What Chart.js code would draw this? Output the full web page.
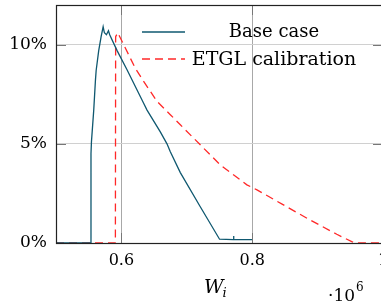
<!DOCTYPE html>
<html>
<head>
    <meta charset="UTF-8">
    <title>Base case vs ETGL calibration</title>
    <style>
        body { margin: 0; overflow: hidden; background: #fff; }
    </style>
</head>
<body>
<script src="https://cdn.jsdelivr.net/npm/chart.js@4.4.0/dist/chart.umd.min.js"></script>
<canvas id="myChart" width="400" height="307"></canvas>

<script type="text/javascript">
    // W_i values (x 10^6) and share in %
    var baseX = [0.5, 0.5527, 0.5535, 0.5542, 0.5577, 0.5603, 0.5614, 0.5653, 0.5690, 0.5721, 0.5740,
                 0.5771, 0.5802, 0.5821, 0.5934, 0.6084, 0.6340, 0.6392, 0.6595, 0.6697, 0.6748,
                 0.6901, 0.7206, 0.7501, 0.7710, 0.7715, 0.7720, 0.8];
    var baseY = [0, 0, 4.5, 5.1, 6.7, 8.2, 8.7, 9.7, 10.4, 10.9, 10.6,
                 10.5, 10.7, 10.5, 9.7, 8.75, 7.05, 6.7, 5.6, 5.0, 4.6,
                 3.55, 1.83, 0.19, 0.17, 0.35, 0.17, 0.17];

    var etglX = [0.5, 0.5908, 0.5912, 0.5944, 0.6035, 0.6214, 0.6340, 0.6545, 0.6748, 0.6901,
                 0.7206, 0.7511, 0.7919, 0.8073, 0.8478, 0.8885, 0.9293, 0.9522, 0.957, 1.0];
    var etglY = [0, 0, 10.4, 10.6, 10.0, 8.8, 8.15, 7.14, 6.47, 5.96,
                 4.95, 3.94, 2.93, 2.68, 1.92, 1.16, 0.44, 0.07, 0, 0];

    var xTicks = [0.6, 0.8, 1.0];
    var yTicks = [0, 5, 10];

    var seriesNames = ["Base case", "ETGL calibration"];
    var tealColor = "#0f5870";
    var redColor = "rgb(255,40,40)";
    var serif = "'DejaVu Serif', serif";

    function toPoints(xs, ys) {
        return xs.map(function(x, i) { return { x: x, y: ys[i] }; });
    }

    function noPad(s) {
        s.paddingTop = 0; s.paddingBottom = 0;
        s.paddingLeft = 0; s.paddingRight = 0;
    }

    var framePlugin = {
        id: 'frame',
        afterDraw: function(chart) {
            var c = chart.ctx, a = chart.chartArea;
            var xs = chart.scales.x, ys = chart.scales.y;
            c.save();
            // inner tick marks
            c.strokeStyle = '#777';
            c.lineWidth = 1;
            xTicks.forEach(function(v) {
                var px = Math.round(xs.getPixelForValue(v)) + 0.5;
                c.beginPath();
                c.moveTo(px, a.bottom); c.lineTo(px, a.bottom - 10);
                c.moveTo(px, a.top); c.lineTo(px, a.top + 10);
                c.stroke();
            });
            yTicks.forEach(function(v) {
                var py = Math.round(ys.getPixelForValue(v)) + 0.5;
                c.beginPath();
                c.moveTo(a.left, py); c.lineTo(a.left + 10, py);
                c.moveTo(a.right, py); c.lineTo(a.right - 10, py);
                c.stroke();
            });
            // frame
            c.strokeStyle = '#222';
            c.lineWidth = 1.2;
            c.strokeRect(Math.round(a.left) + 0.5, Math.round(a.top) + 0.5,
                         Math.round(a.right - a.left), Math.round(a.bottom - a.top));

            // legend
            c.lineWidth = 1.3;
            c.strokeStyle = tealColor;
            c.beginPath(); c.moveTo(142, 32); c.lineTo(185, 32); c.stroke();
            c.strokeStyle = redColor;
            c.setLineDash([8, 5]);
            c.beginPath(); c.moveTo(142, 59); c.lineTo(185, 59); c.stroke();
            c.setLineDash([]);
            c.fillStyle = '#000';
            c.textBaseline = 'alphabetic';
            c.textAlign = 'center';
            c.font = '18px ' + serif;
            c.fillText(seriesNames[0], 274, 37);
            c.font = '19px ' + serif;
            c.fillText(seriesNames[1], 274, 65);

            // axis title W_i
            c.textAlign = 'left';
            c.font = 'italic 19px ' + serif;
            c.fillText('W', 204, 293);
            var w = c.measureText('W').width;
            c.font = 'italic 13px ' + serif;
            c.fillText('i', 204 + w - 1, 297);

            // scale factor
            c.font = '17px ' + serif;
            c.fillText('\u00b710', 328, 301);
            var w2 = c.measureText('\u00b710').width;
            c.font = '12px ' + serif;
            c.fillText('6', 328 + w2 + 1, 291);
            c.restore();
        }
    };

    var ctx = document.getElementById('myChart').getContext('2d');
    var myChart = new Chart(ctx, {
        type: 'scatter',
        data: {
            datasets: [{
                label: seriesNames[0],
                data: toPoints(baseX, baseY),
                showLine: true,
                borderColor: tealColor,
                borderWidth: 1.3,
                pointRadius: 0,
                tension: 0
            }, {
                label: seriesNames[1],
                data: toPoints(etglX, etglY),
                showLine: true,
                borderColor: redColor,
                borderWidth: 1.3,
                borderDash: [8, 5],
                pointRadius: 0,
                tension: 0
            }]
        },
        options: {
            responsive: false,
            animation: false,
            devicePixelRatio: 1,
            layout: { padding: { top: 5, right: 17, left: 0, bottom: 0 } },
            plugins: {
                legend: { display: false },
                tooltip: { enabled: false }
            },
            scales: {
                x: {
                    type: 'linear',
                    min: 0.5,
                    max: 1.0,
                    afterFit: function(s) { s.height = 64; noPad(s); },
                    afterBuildTicks: function(s) {
                        s.ticks = xTicks.map(function(v) { return { value: v }; });
                    },
                    border: { display: false },
                    grid: { color: '#a8a8a8', drawTicks: false, lineWidth: 1 },
                    ticks: {
                        padding: 8,
                        color: '#000',
                        font: { family: serif, size: 16 },
                        maxRotation: 0,
                        callback: function(v) { return v === 1 ? '1' : v.toFixed(1); }
                    }
                },
                y: {
                    min: 0,
                    max: 12,
                    afterFit: function(s) { s.width = 56; noPad(s); },
                    afterBuildTicks: function(s) {
                        s.ticks = yTicks.map(function(v) { return { value: v }; });
                    },
                    border: { display: false },
                    grid: { color: '#d0d0d0', drawTicks: false, lineWidth: 1 },
                    ticks: {
                        padding: 9,
                        color: '#000',
                        font: { family: serif, size: 17 },
                        callback: function(v) { return v + '%'; }
                    }
                }
            }
        },
        plugins: [framePlugin]
    });
</script>
</body>
</html>
